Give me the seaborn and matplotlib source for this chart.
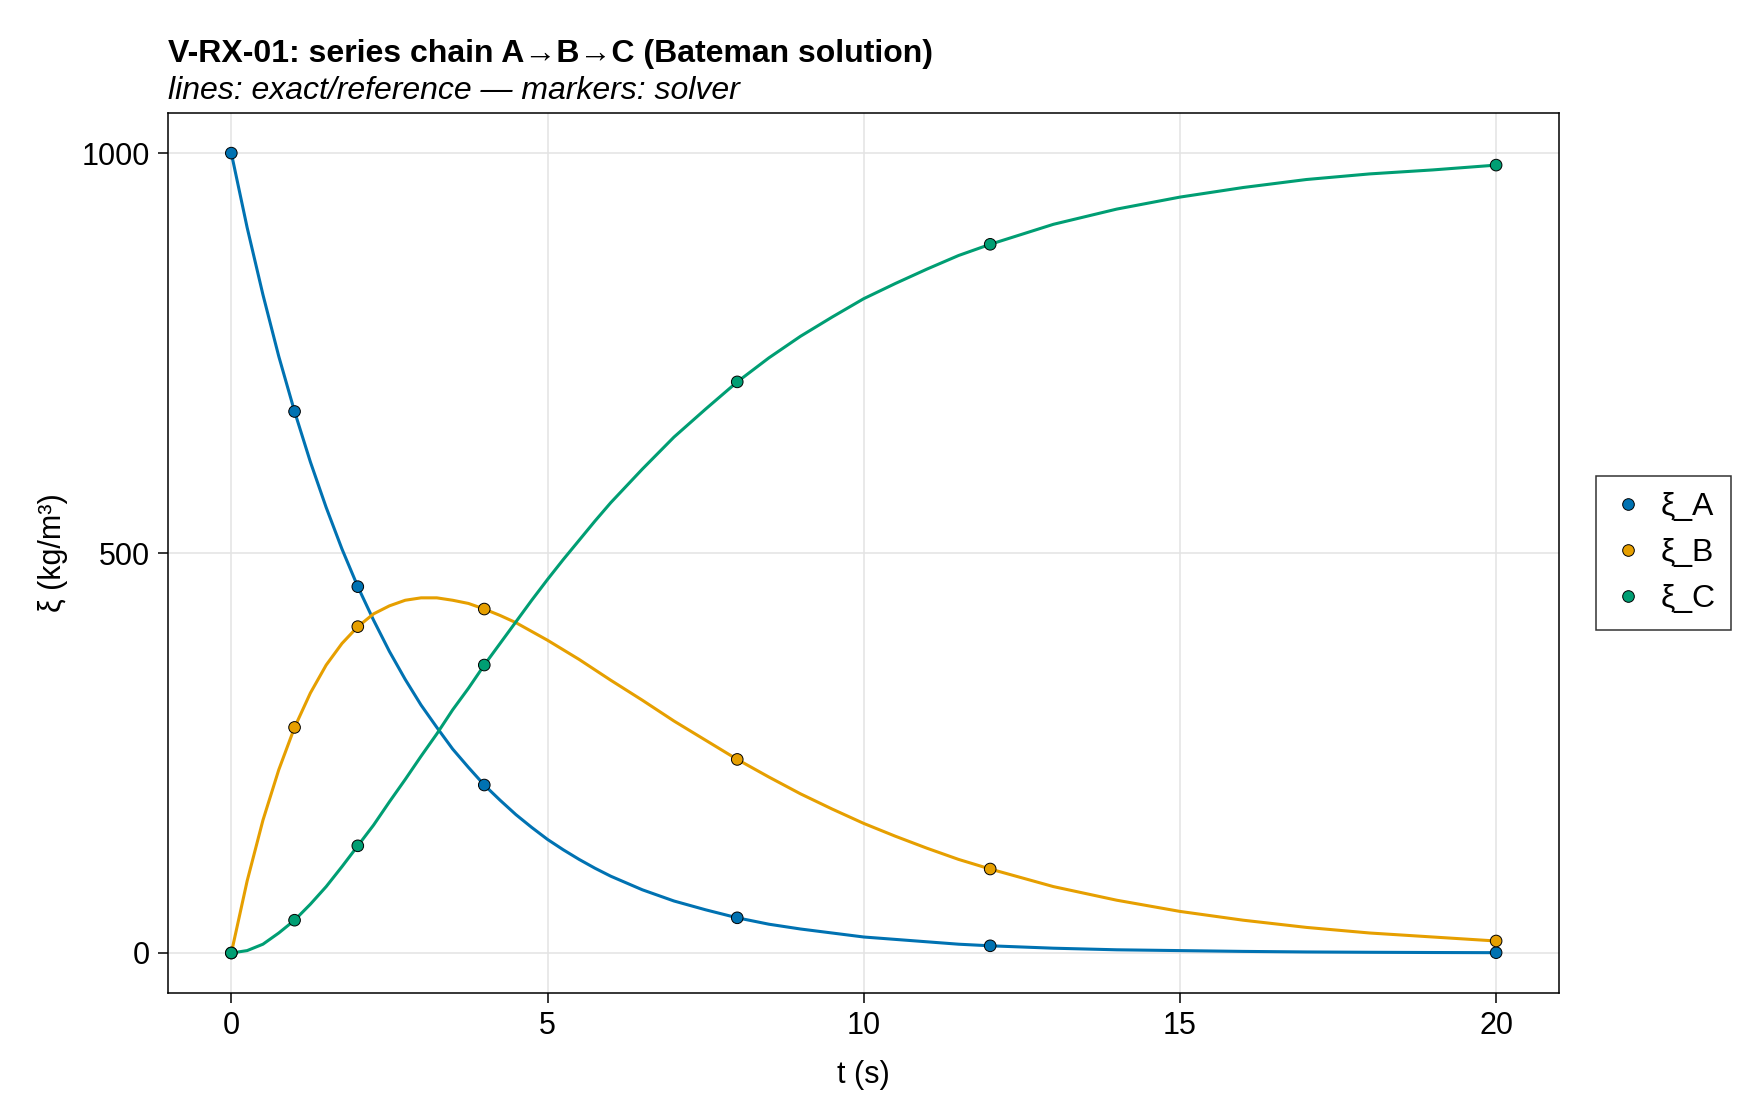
import numpy as np
import pandas as pd
import matplotlib
matplotlib.use('Agg')
import matplotlib.pyplot as plt
import seaborn as sns

# exact / reference curves
t_ref = [0, 0.25, 0.5, 0.75, 1, 1.25, 1.5, 1.75, 2, 2.25, 2.5, 2.75, 3, 3.25, 3.5, 3.75,
         4, 4.25, 4.5, 4.75, 5, 5.25, 5.5, 5.75, 6, 6.5, 7, 7.5, 8, 8.5, 9, 9.5,
         10, 10.5, 11, 11.5, 12, 13, 14, 15, 16, 17, 18, 19, 20]
a_ref = [1000, 907, 823, 746, 677, 614, 557, 505, 458, 416, 377, 342, 310, 282, 255, 232,
         210, 191, 173, 157, 142, 129, 117, 106, 96, 79, 65, 54, 44, 36, 30, 25,
         20, 17, 14, 11, 9, 6, 4, 3, 2, 1.3, 0.9, 0.6, 0.4]
b_ref = [0, 90, 166, 229, 282, 325, 360, 387, 408, 424, 434, 441, 444, 444, 441, 437,
         430, 422, 413, 402, 391, 379, 367, 354, 341, 316, 290, 266, 242, 220, 199, 180,
         162, 146, 131, 117, 105, 83, 66, 52, 41, 32, 25, 20, 15]
c_ref = [0, 3, 11, 25, 41, 61, 83, 108, 134, 160, 189, 217, 246, 274, 304, 331,
         360, 387, 414, 441, 467, 492, 516, 540, 563, 605, 645, 680, 714, 744, 771, 795,
         818, 837, 855, 872, 886, 911, 930, 945, 957, 967, 974, 979, 985]

# solver markers
t_sol = [0, 1, 2, 4, 8, 12, 20]
a_sol = [1000, 677, 458, 210, 44, 9, 0.4]
b_sol = [0, 282, 408, 430, 242, 105, 15]
c_sol = [0, 41, 134, 360, 714, 886, 985]

species = ['ξ_A', 'ξ_B', 'ξ_C']
colors = ['#0072B2', '#E69F00', '#009E73']

ref = pd.concat([pd.DataFrame({'t': t_ref, 'xi': v, 'species': s})
                 for s, v in zip(species, [a_ref, b_ref, c_ref])])
sol = pd.concat([pd.DataFrame({'t': t_sol, 'xi': v, 'species': s})
                 for s, v in zip(species, [a_sol, b_sol, c_sol])])

sns.set_style('white')
plt.rcParams['font.family'] = ['Liberation Sans', 'DejaVu Sans']
plt.rcParams['text.color'] = 'black'
plt.rcParams['axes.labelcolor'] = 'black'

fig = plt.figure(figsize=(17.6, 11.2), dpi=100)
ax = fig.add_axes([0.0955, 0.1134, 0.7905, 0.7856])

sns.lineplot(data=ref, x='t', y='xi', hue='species', palette=colors, lw=2.2,
             legend=False, ax=ax)
sns.scatterplot(data=sol, x='t', y='xi', hue='species', palette=colors, s=70,
                edgecolor='black', linewidth=0.7, ax=ax, zorder=3)

ax.set_xlim(-1, 21)
ax.set_ylim(-50, 1050)
ax.set_xticks([0, 5, 10, 15, 20])
ax.set_yticks([0, 500, 1000])
ax.grid(True, color='#e3e3e3', lw=1.1)
ax.set_axisbelow(True)
for sp in ax.spines.values():
    sp.set_color('black')
    sp.set_linewidth(1.1)
ax.tick_params(axis='both', direction='out', length=7, width=1.1,
               labelsize=22, pad=6, left=True, bottom=True, colors='black')
ax.set_xlabel('t (s)', fontsize=22, labelpad=14)
ax.set_ylabel('ξ (kg/m³)', fontsize=22, labelpad=10)

leg = ax.legend(loc='center left', bbox_to_anchor=(1.0266, 0.5), borderaxespad=0,
                fontsize=23, frameon=True, fancybox=False, edgecolor='black',
                borderpad=0.5, handlelength=1.0, handletextpad=0.5,
                labelspacing=0.5)
leg.get_frame().set_linewidth(1.1)

fig.text(0.0955, 0.9446, 'V-RX-01: series chain A→B→C (Bateman solution)',
         fontsize=23, fontweight='bold', ha='left', va='baseline')
fig.text(0.0955, 0.9116, 'lines: exact/reference — markers: solver',
         fontsize=23, style='italic', ha='left', va='baseline')

fig.savefig('out.png', dpi=100)
